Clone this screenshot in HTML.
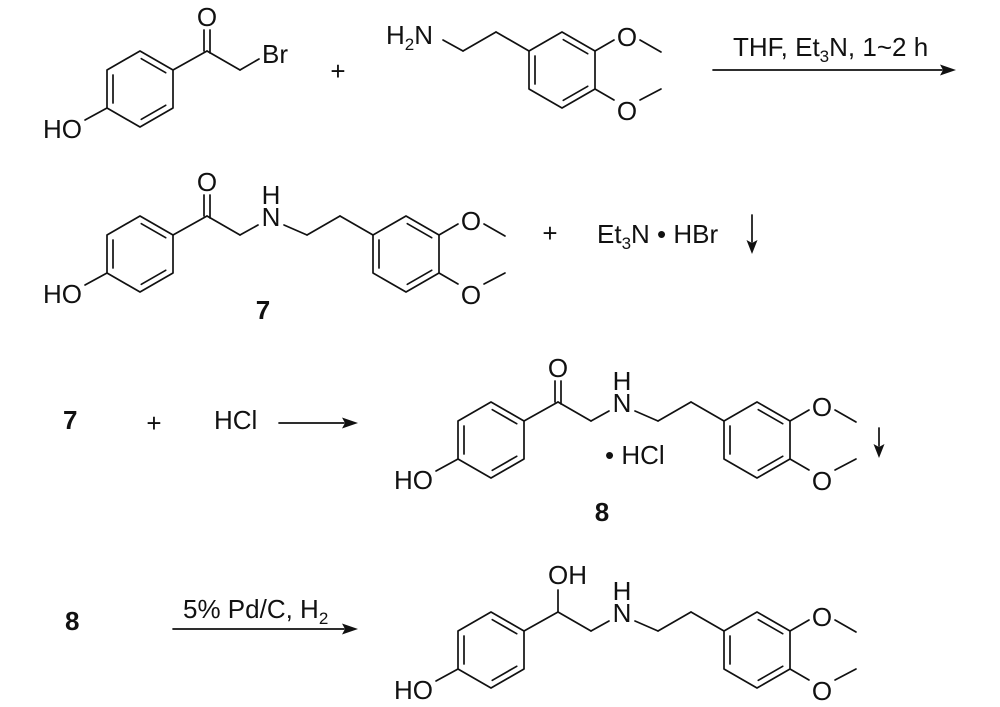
<!DOCTYPE html>
<html><head><meta charset="utf-8"><style>
html,body{margin:0;padding:0;background:#fff;width:1000px;height:707px;overflow:hidden}
svg{display:block}
text{font-family:"Liberation Sans",Arial,sans-serif;font-size:26px;fill:#111}
.b{font-weight:bold}
</style></head><body>
<svg width="1000" height="707" viewBox="0 0 1000 707" xmlns="http://www.w3.org/2000/svg">
<g stroke="#111" stroke-width="1.7" fill="none" stroke-linecap="round" stroke-linejoin="round">
<g transform="translate(0,-165)">
<polygon points="140,216 173,235 173,273 140,292 107,273 107,235"/>
<line x1="113" y1="240" x2="113" y2="268"/><line x1="141.3" y1="223.7" x2="165.7" y2="237.7"/><line x1="165.7" y1="270.3" x2="141.3" y2="284.3"/>
<line x1="173" y1="235" x2="207" y2="216"/><line x1="204" y1="216" x2="204" y2="195"/><line x1="210" y1="218" x2="210" y2="195"/>
<line x1="207" y1="216" x2="240" y2="235"/><line x1="240" y1="235" x2="259" y2="224"/>
<line x1="107" y1="273" x2="85" y2="285"/>
</g>
<g transform="translate(156,-184)">
<polygon points="406,216 439,235 439,273 406,292 373,273 373,235"/>
<line x1="379" y1="240" x2="379" y2="268"/><line x1="407.3" y1="223.7" x2="431.7" y2="237.7"/><line x1="431.7" y1="270.3" x2="407.3" y2="284.3"/>
<line x1="373" y1="235" x2="340" y2="216"/><line x1="340" y1="216" x2="307" y2="235"/><line x1="307" y1="235" x2="287" y2="224"/>
<line x1="439" y1="235" x2="458" y2="224"/><line x1="484" y1="224" x2="505" y2="236"/>
<line x1="439" y1="273" x2="458" y2="284"/><line x1="484" y1="284" x2="505" y2="273"/>
</g>
<g>
<polygon points="140,216 173,235 173,273 140,292 107,273 107,235"/>
<line x1="113" y1="240" x2="113" y2="268"/><line x1="141.3" y1="223.7" x2="165.7" y2="237.7"/><line x1="165.7" y1="270.3" x2="141.3" y2="284.3"/>
<line x1="173" y1="235" x2="207" y2="216"/><line x1="204" y1="216" x2="204" y2="195"/><line x1="210" y1="218" x2="210" y2="195"/>
<line x1="207" y1="216" x2="240" y2="235"/><line x1="240" y1="235" x2="258" y2="225"/>
<line x1="284" y1="225" x2="307" y2="235"/><line x1="307" y1="235" x2="340" y2="216"/><line x1="340" y1="216" x2="373" y2="235"/>
<polygon points="406,216 439,235 439,273 406,292 373,273 373,235"/>
<line x1="379" y1="240" x2="379" y2="268"/><line x1="407.3" y1="223.7" x2="431.7" y2="237.7"/><line x1="431.7" y1="270.3" x2="407.3" y2="284.3"/>
<line x1="439" y1="235" x2="458" y2="224"/><line x1="484" y1="224" x2="505" y2="236"/>
<line x1="439" y1="273" x2="458" y2="284"/><line x1="484" y1="284" x2="505" y2="273"/>
<line x1="107" y1="273" x2="85" y2="285"/>
</g>
<g transform="translate(351,186)">
<polygon points="140,216 173,235 173,273 140,292 107,273 107,235"/>
<line x1="113" y1="240" x2="113" y2="268"/><line x1="141.3" y1="223.7" x2="165.7" y2="237.7"/><line x1="165.7" y1="270.3" x2="141.3" y2="284.3"/>
<line x1="173" y1="235" x2="207" y2="216"/><line x1="204" y1="216" x2="204" y2="195"/><line x1="210" y1="218" x2="210" y2="195"/>
<line x1="207" y1="216" x2="240" y2="235"/><line x1="240" y1="235" x2="258" y2="225"/>
<line x1="284" y1="225" x2="307" y2="235"/><line x1="307" y1="235" x2="340" y2="216"/><line x1="340" y1="216" x2="373" y2="235"/>
<polygon points="406,216 439,235 439,273 406,292 373,273 373,235"/>
<line x1="379" y1="240" x2="379" y2="268"/><line x1="407.3" y1="223.7" x2="431.7" y2="237.7"/><line x1="431.7" y1="270.3" x2="407.3" y2="284.3"/>
<line x1="439" y1="235" x2="458" y2="224"/><line x1="484" y1="224" x2="505" y2="236"/>
<line x1="439" y1="273" x2="458" y2="284"/><line x1="484" y1="284" x2="505" y2="273"/>
<line x1="107" y1="273" x2="85" y2="285"/>
</g>
<g transform="translate(351,396)">
<polygon points="140,216 173,235 173,273 140,292 107,273 107,235"/>
<line x1="113" y1="240" x2="113" y2="268"/><line x1="141.3" y1="223.7" x2="165.7" y2="237.7"/><line x1="165.7" y1="270.3" x2="141.3" y2="284.3"/>
<line x1="173" y1="235" x2="207" y2="216"/><line x1="207" y1="216" x2="207" y2="194"/>
<line x1="207" y1="216" x2="240" y2="235"/><line x1="240" y1="235" x2="258" y2="225"/>
<line x1="284" y1="225" x2="307" y2="235"/><line x1="307" y1="235" x2="340" y2="216"/><line x1="340" y1="216" x2="373" y2="235"/>
<polygon points="406,216 439,235 439,273 406,292 373,273 373,235"/>
<line x1="379" y1="240" x2="379" y2="268"/><line x1="407.3" y1="223.7" x2="431.7" y2="237.7"/><line x1="431.7" y1="270.3" x2="407.3" y2="284.3"/>
<line x1="439" y1="235" x2="458" y2="224"/><line x1="484" y1="224" x2="505" y2="236"/>
<line x1="439" y1="273" x2="458" y2="284"/><line x1="484" y1="284" x2="505" y2="273"/>
<line x1="107" y1="273" x2="85" y2="285"/>
</g>
<line x1="713" y1="70" x2="942" y2="70"/>
<line x1="752" y1="215" x2="752" y2="242"/>
<line x1="279" y1="423" x2="344" y2="423"/>
<line x1="879" y1="428" x2="879" y2="446"/>
<line x1="173" y1="629" x2="344" y2="629"/>
</g>
<g fill="#111">
<polygon points="956,70 940,64.5 943,70 940,75.5"/>
<polygon points="752,254 746.5,240 752,243 757.5,240"/>
<polygon points="358,423 342,417.5 345,423 342,428.5"/>
<polygon points="879,458 873.5,444 879,447 884.5,444"/>
<polygon points="358,629 342,623.5 345,629 342,634.5"/>
</g>
<text x="207" y="26" text-anchor="middle">O</text>
<text x="262" y="63">Br</text>
<text x="43" y="138">HO</text>
<text x="338" y="80" text-anchor="middle">+</text>
<text x="386" y="44">H<tspan font-size="17" dy="6">2</tspan><tspan dy="-6">N</tspan></text>
<text x="627" y="46" text-anchor="middle">O</text>
<text x="627" y="120" text-anchor="middle">O</text>
<text x="733" y="56">THF, Et<tspan font-size="17" dy="6">3</tspan><tspan dy="-6">N, 1~2 h</tspan></text>
<text x="207" y="191" text-anchor="middle">O</text>
<text x="271" y="226" text-anchor="middle">N</text>
<text x="271" y="204" text-anchor="middle">H</text>
<text x="471" y="230" text-anchor="middle">O</text>
<text x="471" y="304" text-anchor="middle">O</text>
<text x="43" y="303">HO</text>
<text x="263" y="319" text-anchor="middle" class="b">7</text>
<text x="550" y="242" text-anchor="middle">+</text>
<text x="597" y="243">Et<tspan font-size="17" dy="6">3</tspan><tspan dy="-6">N • HBr</tspan></text>
<text x="63" y="429" class="b">7</text>
<text x="154" y="432" text-anchor="middle">+</text>
<text x="214" y="429">HCl</text>
<g transform="translate(351,186)">
<text x="207" y="191" text-anchor="middle">O</text>
<text x="271" y="226" text-anchor="middle">N</text>
<text x="271" y="204" text-anchor="middle">H</text>
<text x="471" y="230" text-anchor="middle">O</text>
<text x="471" y="304" text-anchor="middle">O</text>
<text x="43" y="303">HO</text>
</g>
<text x="605" y="464">• HCl</text>
<text x="602" y="521" text-anchor="middle" class="b">8</text>
<text x="65" y="630" class="b">8</text>
<text x="183" y="618">5% Pd/C, H<tspan font-size="17" dy="6">2</tspan></text>
<g transform="translate(351,396)">
<text x="197" y="188">OH</text>
<text x="271" y="226" text-anchor="middle">N</text>
<text x="271" y="204" text-anchor="middle">H</text>
<text x="471" y="230" text-anchor="middle">O</text>
<text x="471" y="304" text-anchor="middle">O</text>
<text x="43" y="303">HO</text>
</g>
</svg>
</body></html>
